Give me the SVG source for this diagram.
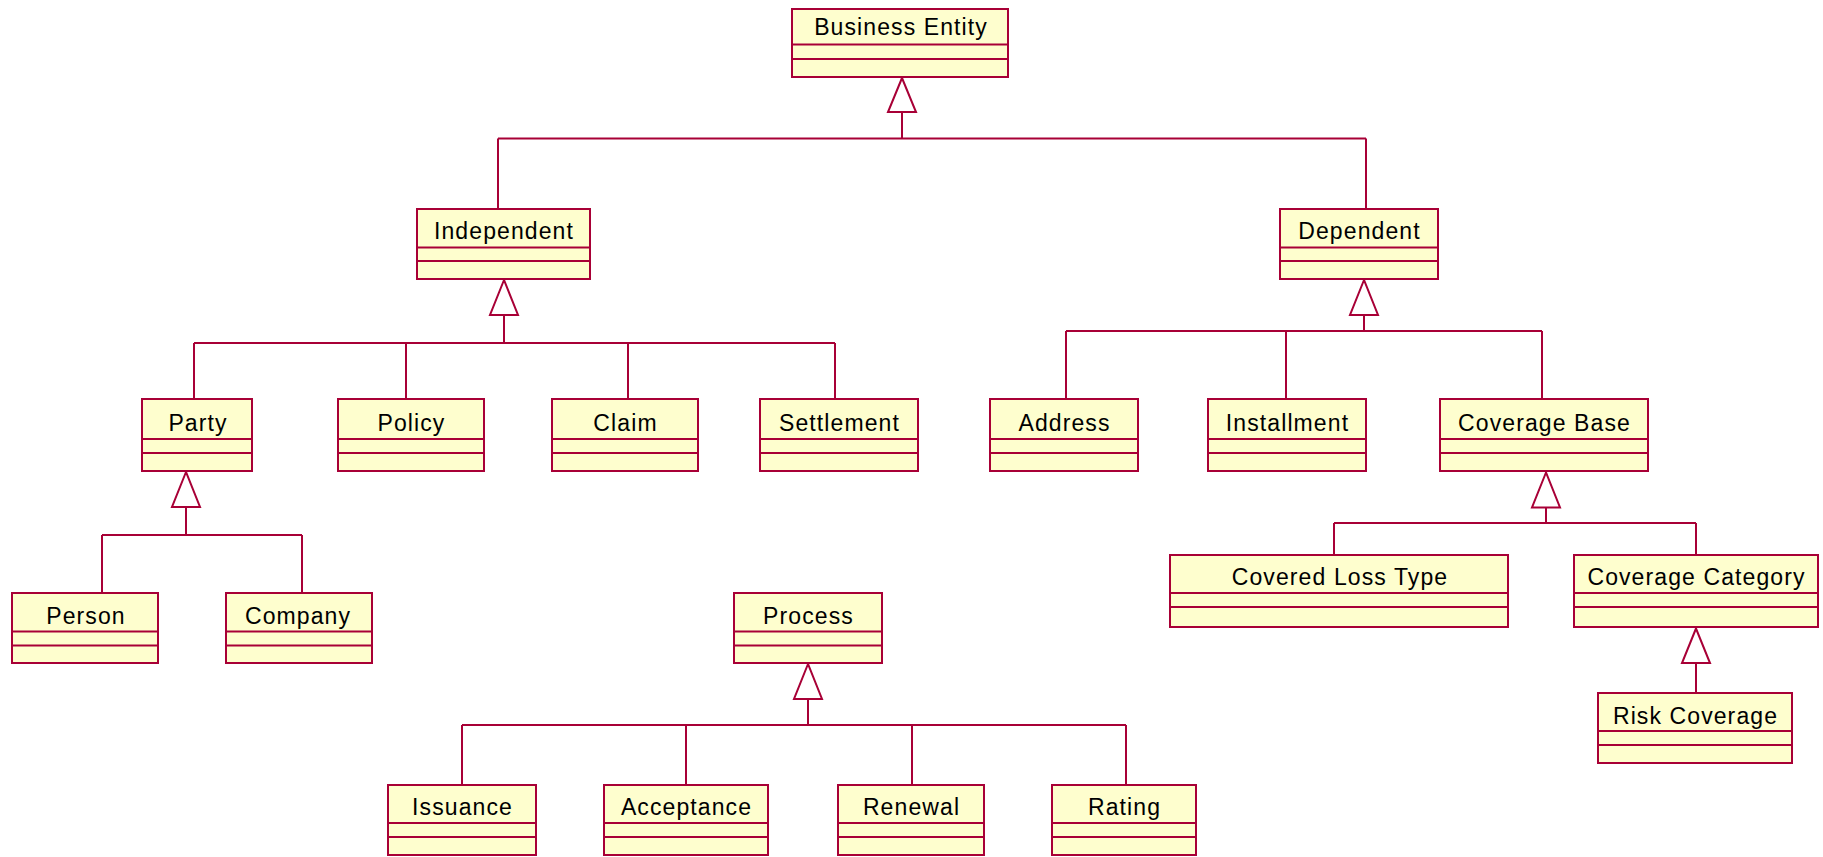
<svg xmlns="http://www.w3.org/2000/svg" width="1823" height="857" viewBox="0 0 1823 857">
  <style>
    .box { fill: #FEFECE; stroke: #A80036; stroke-width: 2; }
    .sep { stroke: #A80036; stroke-width: 2; }
    .lbl { font-family: "Liberation Sans", Arial, sans-serif; font-size: 23px; letter-spacing: 1.1px; fill: #000; text-anchor: middle; }
    .edge { fill: none; stroke: #A80036; stroke-width: 2; }
    .gen { fill: #FFFFFF; stroke: #A80036; stroke-width: 2; stroke-linejoin: miter; }
  </style>
  <rect width="1823" height="857" fill="#FFFFFF"/>

  <!-- generalisation connectors -->
  <g id="connectors">
    <!-- Business Entity -->
    <polygon class="gen" points="902,78 888,112 916,112"/>
    <path class="edge" d="M902,112 V138.5 M498,138.5 H1366 M498,138.5 V209 M1366,138.5 V209"/>
    <!-- Independent -->
    <polygon class="gen" points="504,280 490,315 518,315"/>
    <path class="edge" d="M504,315 V343 M194,343 H835 M194,343 V399 M406,343 V399 M628,343 V399 M835,343 V399"/>
    <!-- Dependent -->
    <polygon class="gen" points="1364,280 1350,315 1378,315"/>
    <path class="edge" d="M1364,315 V331 M1066,331 H1542 M1066,331 V399 M1286,331 V399 M1542,331 V399"/>
    <!-- Party -->
    <polygon class="gen" points="186,472 172,507 200,507"/>
    <path class="edge" d="M186,507 V535 M102,535 H302 M102,535 V593 M302,535 V593"/>
    <!-- Coverage Base -->
    <polygon class="gen" points="1546,472.5 1532,507.5 1560,507.5"/>
    <path class="edge" d="M1546,507.5 V523 M1334,523 H1696 M1334,523 V555 M1696,523 V555"/>
    <!-- Coverage Category -->
    <polygon class="gen" points="1696,628.5 1682,663 1710,663"/>
    <path class="edge" d="M1696,663 V693"/>
    <!-- Process -->
    <polygon class="gen" points="808,664 794,699 822,699"/>
    <path class="edge" d="M808,699 V725 M462,725 H1126 M462,725 V785 M686,725 V785 M912,725 V785 M1126,725 V785"/>
  </g>

  <g id="business-entity">
    <rect class="box" x="792" y="9" width="216" height="68"/>
    <line class="sep" x1="792" y1="44.5" x2="1008" y2="44.5"/>
    <line class="sep" x1="792" y1="59" x2="1008" y2="59"/>
    <text class="lbl" x="901" y="35">Business Entity</text>
  </g>

  <g id="independent">
    <rect class="box" x="417" y="209" width="173" height="70"/>
    <line class="sep" x1="417" y1="247.5" x2="590" y2="247.5"/>
    <line class="sep" x1="417" y1="261" x2="590" y2="261"/>
    <text class="lbl" x="504" y="238.5">Independent</text>
  </g>

  <g id="dependent">
    <rect class="box" x="1280" y="209" width="158" height="70"/>
    <line class="sep" x1="1280" y1="247.5" x2="1438" y2="247.5"/>
    <line class="sep" x1="1280" y1="261" x2="1438" y2="261"/>
    <text class="lbl" x="1359.5" y="238.5">Dependent</text>
  </g>

  <g id="party">
    <rect class="box" x="142" y="399" width="110" height="72"/>
    <line class="sep" x1="142" y1="439" x2="252" y2="439"/>
    <line class="sep" x1="142" y1="453" x2="252" y2="453"/>
    <text class="lbl" x="198" y="430.5">Party</text>
  </g>

  <g id="policy">
    <rect class="box" x="338" y="399" width="146" height="72"/>
    <line class="sep" x1="338" y1="439" x2="484" y2="439"/>
    <line class="sep" x1="338" y1="453" x2="484" y2="453"/>
    <text class="lbl" x="411.5" y="430.5">Policy</text>
  </g>

  <g id="claim">
    <rect class="box" x="552" y="399" width="146" height="72"/>
    <line class="sep" x1="552" y1="439" x2="698" y2="439"/>
    <line class="sep" x1="552" y1="453" x2="698" y2="453"/>
    <text class="lbl" x="625.5" y="430.5">Claim</text>
  </g>

  <g id="settlement">
    <rect class="box" x="760" y="399" width="158" height="72"/>
    <line class="sep" x1="760" y1="439" x2="918" y2="439"/>
    <line class="sep" x1="760" y1="453" x2="918" y2="453"/>
    <text class="lbl" x="839.5" y="430.5">Settlement</text>
  </g>

  <g id="address">
    <rect class="box" x="990" y="399" width="148" height="72"/>
    <line class="sep" x1="990" y1="439" x2="1138" y2="439"/>
    <line class="sep" x1="990" y1="453" x2="1138" y2="453"/>
    <text class="lbl" x="1064.5" y="430.5">Address</text>
  </g>

  <g id="installment">
    <rect class="box" x="1208" y="399" width="158" height="72"/>
    <line class="sep" x1="1208" y1="439" x2="1366" y2="439"/>
    <line class="sep" x1="1208" y1="453" x2="1366" y2="453"/>
    <text class="lbl" x="1287.5" y="430.5">Installment</text>
  </g>

  <g id="coverage-base">
    <rect class="box" x="1440" y="399" width="208" height="72"/>
    <line class="sep" x1="1440" y1="439" x2="1648" y2="439"/>
    <line class="sep" x1="1440" y1="453" x2="1648" y2="453"/>
    <text class="lbl" x="1544.5" y="430.5">Coverage Base</text>
  </g>

  <g id="person">
    <rect class="box" x="12" y="593" width="146" height="70"/>
    <line class="sep" x1="12" y1="631.5" x2="158" y2="631.5"/>
    <line class="sep" x1="12" y1="645.5" x2="158" y2="645.5"/>
    <text class="lbl" x="86" y="624">Person</text>
  </g>

  <g id="company">
    <rect class="box" x="226" y="593" width="146" height="70"/>
    <line class="sep" x1="226" y1="631.5" x2="372" y2="631.5"/>
    <line class="sep" x1="226" y1="645.5" x2="372" y2="645.5"/>
    <text class="lbl" x="298" y="624">Company</text>
  </g>

  <g id="process">
    <rect class="box" x="734" y="593" width="148" height="70"/>
    <line class="sep" x1="734" y1="631.5" x2="882" y2="631.5"/>
    <line class="sep" x1="734" y1="645.5" x2="882" y2="645.5"/>
    <text class="lbl" x="808.5" y="624">Process</text>
  </g>

  <g id="covered-loss-type">
    <rect class="box" x="1170" y="555" width="338" height="72"/>
    <line class="sep" x1="1170" y1="593" x2="1508" y2="593"/>
    <line class="sep" x1="1170" y1="607" x2="1508" y2="607"/>
    <text class="lbl" x="1340" y="585">Covered Loss Type</text>
  </g>

  <g id="coverage-category">
    <rect class="box" x="1574" y="555" width="244" height="72"/>
    <line class="sep" x1="1574" y1="593" x2="1818" y2="593"/>
    <line class="sep" x1="1574" y1="607" x2="1818" y2="607"/>
    <text class="lbl" x="1696.5" y="585">Coverage Category</text>
  </g>

  <g id="risk-coverage">
    <rect class="box" x="1598" y="693" width="194" height="70"/>
    <line class="sep" x1="1598" y1="731" x2="1792" y2="731"/>
    <line class="sep" x1="1598" y1="745" x2="1792" y2="745"/>
    <text class="lbl" x="1695.5" y="723.5">Risk Coverage</text>
  </g>

  <g id="issuance">
    <rect class="box" x="388" y="785" width="148" height="70"/>
    <line class="sep" x1="388" y1="823" x2="536" y2="823"/>
    <line class="sep" x1="388" y1="837" x2="536" y2="837"/>
    <text class="lbl" x="462.5" y="815">Issuance</text>
  </g>

  <g id="acceptance">
    <rect class="box" x="604" y="785" width="164" height="70"/>
    <line class="sep" x1="604" y1="823" x2="768" y2="823"/>
    <line class="sep" x1="604" y1="837" x2="768" y2="837"/>
    <text class="lbl" x="686.5" y="815">Acceptance</text>
  </g>

  <g id="renewal">
    <rect class="box" x="838" y="785" width="146" height="70"/>
    <line class="sep" x1="838" y1="823" x2="984" y2="823"/>
    <line class="sep" x1="838" y1="837" x2="984" y2="837"/>
    <text class="lbl" x="911.5" y="815">Renewal</text>
  </g>

  <g id="rating">
    <rect class="box" x="1052" y="785" width="144" height="70"/>
    <line class="sep" x1="1052" y1="823" x2="1196" y2="823"/>
    <line class="sep" x1="1052" y1="837" x2="1196" y2="837"/>
    <text class="lbl" x="1124.5" y="815">Rating</text>
  </g>
</svg>
